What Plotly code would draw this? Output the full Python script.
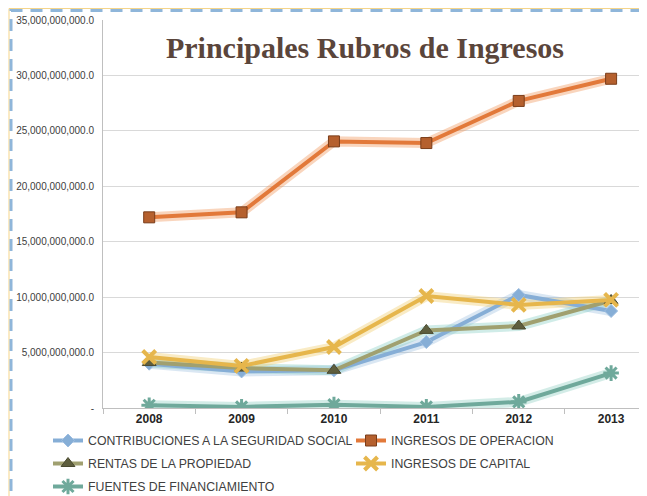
import plotly.graph_objects as go

years = ["2008", "2009", "2010", "2011", "2012", "2013"]

contribuciones = [4.0e9, 3.3e9, 3.4e9, 5.95e9, 10.2e9, 8.75e9]
operacion = [17.2e9, 17.65e9, 24.05e9, 23.9e9, 27.7e9, 29.7e9]
rentas = [4.1e9, 3.6e9, 3.4e9, 7.0e9, 7.4e9, 9.7e9]
capital = [4.6e9, 3.8e9, 5.5e9, 10.1e9, 9.3e9, 9.75e9]
fuentes = [0.25e9, 0.1e9, 0.3e9, 0.1e9, 0.55e9, 3.15e9]

y_ticks = [0, 5e9, 10e9, 15e9, 20e9, 25e9, 30e9, 35e9]
y_labels = ["-" if v == 0 else f"{v:,.1f}" for v in y_ticks]

# name, values, line colour, glow colour, marker, legend column
series = [
    ("CONTRIBUCIONES A LA SEGURIDAD SOCIAL", contribuciones, "#86aed6", "rgba(134,174,214,0.30)",
     dict(symbol="diamond", size=10, color="#86aed6", line=dict(color="#9dbde0", width=1)), "legend"),
    ("INGRESOS DE OPERACION", operacion, "#e2793a", "rgba(240,150,90,0.40)",
     dict(symbol="square", size=11, color="#b5602e", line=dict(color="#7a3d1a", width=1)), "legend2"),
    ("RENTAS DE LA PROPIEDAD", rentas, "#a0a070", "rgba(120,200,190,0.35)",
     dict(symbol="triangle-up", size=12, color="#5e5e3e", line=dict(color="#4a4a30", width=1)), "legend"),
    ("INGRESOS DE CAPITAL", capital, "#e6b64c", "rgba(240,205,110,0.40)",
     dict(symbol="x-thin-open", size=13, color="#e6b64c", line=dict(color="#e6b64c", width=4)), "legend2"),
    ("FUENTES DE FINANCIAMIENTO", fuentes, "#6fa99b", "rgba(130,200,185,0.35)",
     dict(symbol="asterisk-open", size=13, color="#6fa99b", line=dict(color="#6fa99b", width=3)), "legend"),
]

fig = go.Figure()

# soft glow underneath each line
for name, vals, color, glow, marker, leg in series:
    fig.add_trace(go.Scatter(
        x=years, y=vals, mode="lines", showlegend=False, hoverinfo="skip",
        line=dict(color=glow, width=10),
    ))

for name, vals, color, glow, marker, leg in series:
    fig.add_trace(go.Scatter(
        x=years, y=vals, name=name, mode="lines+markers", legend=leg, legendgroup=name,
        line=dict(color=color, width=4), marker=marker,
    ))

# page shows the figure 8px in from the top-left, so positions are shifted
W, H = 647, 496
L, T, B = 95, 12, 96
pw = W - L
ph = H - T - B

fig.add_shape(type="rect", xref="paper", yref="paper",
              x0=(1 - L) / pw, x1=(700 - L) / pw,
              y0=(H - B - 560) / ph, y1=(H - B - 0.5) / ph,
              line=dict(color="#f5d58a", width=1), layer="below")
fig.add_shape(type="rect", xref="paper", yref="paper",
              x0=(3 - L) / pw, x1=(700 - L) / pw,
              y0=(H - B - 560) / ph, y1=(H - B - 2.5) / ph,
              line=dict(color="#8fb6da", width=3, dash="12px,8px"), layer="below")

leg_style = dict(
    xref="container", yref="container", xanchor="left", yanchor="top",
    tracegroupgap=4, itemwidth=30, bgcolor="rgba(0,0,0,0)",
    font=dict(size=12.3, color="#404040", family="Liberation Sans, Arial"),
)

fig.update_layout(
    width=W, height=H,
    margin=dict(l=L, r=0, t=T, b=B, autoexpand=False),
    paper_bgcolor="white", plot_bgcolor="white",
    font=dict(family="Liberation Sans, Arial", color="#404040"),
    title=dict(text="<b>Principales Rubros de Ingresos</b>", x=357 / W, xanchor="center",
               y=1 - 39 / H, yanchor="middle",
               font=dict(family="Liberation Serif, serif", size=30, color="#5a453b")),
    xaxis=dict(
        type="category", range=[-0.5, (W - 140) / 92.6],
        showline=True, linecolor="#bfbfbf", linewidth=1,
        ticks="outside", tickson="boundaries", ticklen=5, tickcolor="#bfbfbf",
        showgrid=False,
        tickfont=dict(size=12, color="#262626", family="Liberation Sans, Arial", weight="bold"),
    ),
    yaxis=dict(
        range=[0, 35e9], tickvals=y_ticks, ticktext=y_labels,
        showline=True, linecolor="#bfbfbf", linewidth=1,
        gridcolor="#d9d9d9", gridwidth=1, zeroline=False,
        ticklabelstandoff=6,
        tickfont=dict(size=10, color="#404040"),
    ),
    legend=dict(x=40 / W, y=1 - 418 / H, **leg_style),
    legend2=dict(x=343 / W, y=1 - 418 / H, **leg_style),
)

fig.write_html("out.html")
